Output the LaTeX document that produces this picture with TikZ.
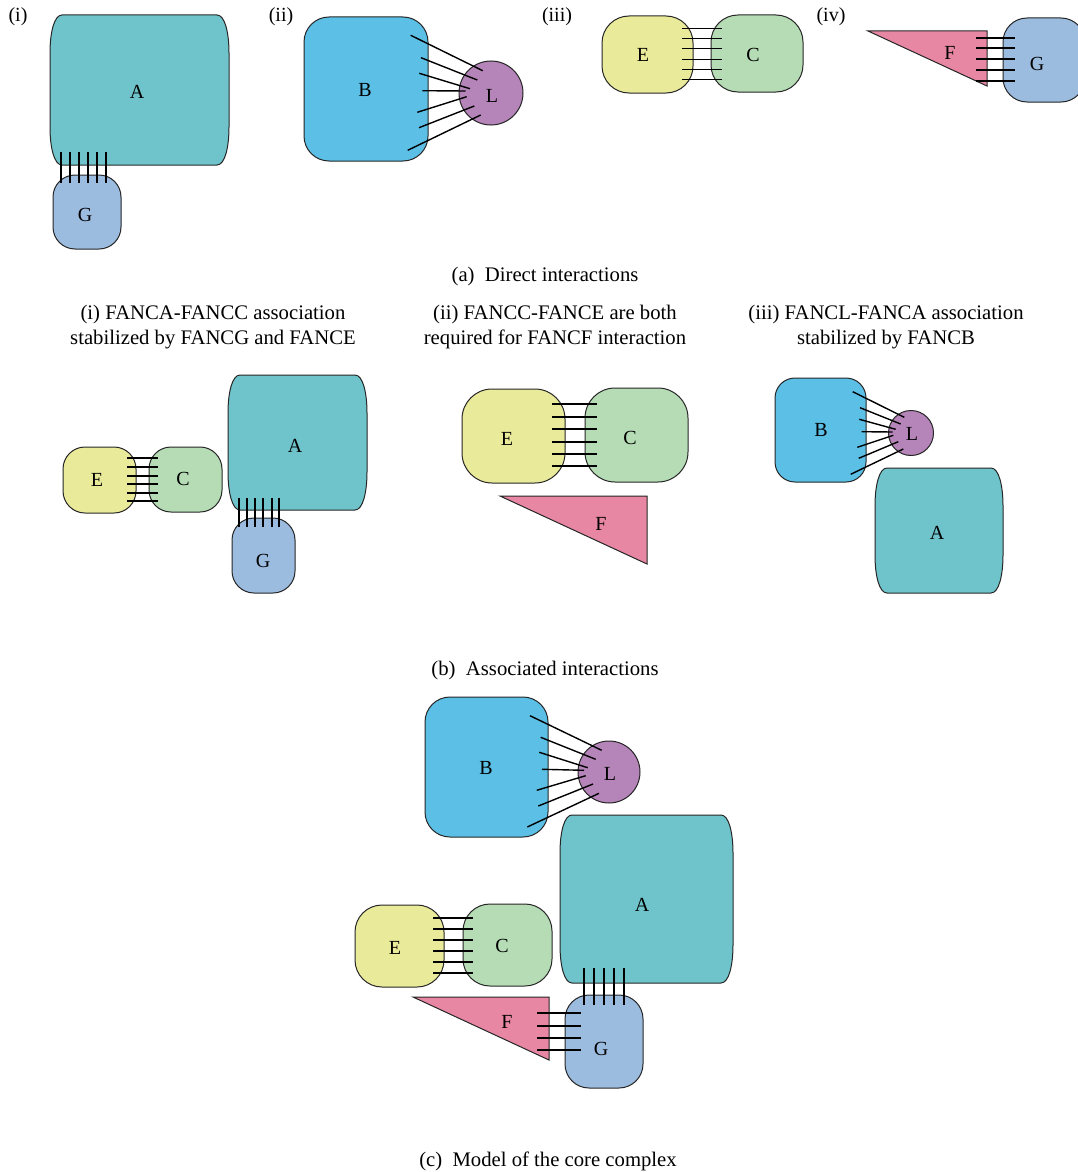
\documentclass[tikz,border=0pt]{standalone}
\usepackage{fontspec}
\setmainfont{Liberation Serif}
\definecolor{cA}{HTML}{6FC4CB}
\definecolor{cG}{HTML}{9BBBDF}
\definecolor{cB}{HTML}{5BBFE6}
\definecolor{cL}{HTML}{B584B9}
\definecolor{cE}{HTML}{EAEA9B}
\definecolor{cC}{HTML}{B6DCB5}
\definecolor{cF}{HTML}{E787A3}
\tikzset{
  outl/.style={draw=black!85, line width=1pt},
  bond/.style={draw=black, line width=1.4pt},
  lbl/.style={font=\fontsize{20}{25}\selectfont, inner sep=0pt},
  txt/.style={font=\fontsize{20.7}{25}\selectfont, align=center, inner sep=0pt},
}
\newcommand\barrelshape[5]{%
 \draw[outl,fill=#5] ({#1+12},#2) -- ({#3-12},#2)
   .. controls ({#3-4},#2) and (#3,{#2+18}) .. (#3,{#2+38})
   -- (#3,{#4-38})
   .. controls (#3,{#4-18}) and ({#3-4},#4) .. ({#3-12},#4)
   -- ({#1+12},#4)
   .. controls ({#1+4},#4) and (#1,{#4-18}) .. (#1,{#4-38})
   -- (#1,{#2+38})
   .. controls (#1,{#2+18}) and ({#1+4},#2) .. ({#1+12},#2) -- cycle;}
\newcommand\rbox[6]{% x1 y1 x2 y2 radius fill
 \draw[outl,fill=#6,rounded corners=#5pt] (#1,#2) rectangle (#3,#4);}
\begin{document}
\begin{tikzpicture}[x=1pt,y=-1pt]
\useasboundingbox (0,0) rectangle (1077,1172);
% ===== (a)(i)
\node[lbl] (ti) at (18,17) {(i)};
\barrelshape{50}{15}{229}{165}{cA}
\rbox{53}{175}{121}{249}{22}{cG}
\node[lbl] (ai) at (137,92) {A};
\node[lbl] (gi) at (85,215) {G};
\foreach \x in {61,70,79,88,97,106} \draw[bond] (\x,152) -- (\x,183);
% ===== (a)(ii)
\node[lbl] (tii) at (281,17) {(ii)};
\rbox{304}{17}{428}{161}{25}{cB}
\draw[outl,fill=cL] (491,93) circle (32);
\node[lbl] (bii) at (365,90) {B};
\node[lbl] (lii) at (492,96) {L};
\draw[bond] (410.7,35.3) -- (482.7,70.7);
\draw[bond] (421,57.7) -- (477.3,80);
\draw[bond] (419.3,73.3) -- (470,88.7);
\draw[bond] (422.3,90.7) -- (465.7,91);
\draw[bond] (417.3,112.3) -- (466.7,96.7);
\draw[bond] (419,127.7) -- (474.3,106);
\draw[bond] (407.7,150.3) -- (480.7,115);
% ===== (a)(iii)
\node[lbl] (tiii) at (557,17) {(iii)};
\rbox{602}{16}{693}{93}{27}{cE}
\rbox{711}{15}{803}{92}{27}{cC}
\node[lbl] (eiii) at (643,55) {E};
\node[lbl] (ciii) at (753,55) {C};
\foreach \y in {28.3,38.3,48.7,59.3,69.3,79.3} \draw[bond] (682,\y) -- (722,\y);
% ===== (a)(iv)
\node[lbl] (tiv) at (831,17) {(iv)};
\draw[outl,fill=cF] (868,31) -- (987,31) -- (987,86) -- cycle;
\rbox{1003}{18}{1085}{102}{24}{cG}
\node[lbl] (fiv) at (950,53) {F};
\node[lbl] (giv) at (1037,64) {G};
\foreach \y in {38,48,59,70,81} \draw[bond] (976,\y) -- (1015,\y);
% caption a
\node[txt] (capa) at (545,277) {(a)\enspace Direct interactions};
\node[txt] (t1) at (213,327) {(i) FANCA-FANCC association\\stabilized by FANCG and FANCE};
\node[txt] (t2) at (555,327) {(ii) FANCC-FANCE are both\\required for FANCF interaction};
\node[txt] (t3) at (886,327) {(iii) FANCL-FANCA association\\stabilized by FANCB};
% ===== (b)(i)
\rbox{63}{447}{136}{513}{22}{cE}
\rbox{149}{447}{222}{512}{22}{cC}
\barrelshape{228}{375}{367}{510}{cA}
\rbox{232}{518}{295}{593}{22}{cG}
\node[lbl] (eb1) at (97,480) {E};
\node[lbl] (cb1) at (183,479) {C};
\node[lbl] (ab1) at (295,446) {A};
\node[lbl] (gb1) at (263,561) {G};
\foreach \y in {458,467,476,484,493,501} \draw[bond] (127,\y) -- (158,\y);
\foreach \x in {239,247,255,263,272,279} \draw[bond] (\x,498) -- (\x,527);
% ===== (b)(ii)
\rbox{462}{389}{565}{483}{30}{cE}
\rbox{585}{388}{688}{482}{30}{cC}
\draw[outl,fill=cF] (500,496) -- (647,496) -- (647,564) -- cycle;
\node[lbl] (eb2) at (507,439) {E};
\node[lbl] (cb2) at (630,438) {C};
\node[lbl] (fb2) at (601,524) {F};
\foreach \y in {404,417,429,442,454,466} \draw[bond] (552,\y) -- (597,\y);
% ===== (b)(iii)
\rbox{775}{378}{866}{482}{20}{cB}
\draw[outl,fill=cL] (911,433) circle (22.5);
\barrelshape{875}{468}{1003}{593}{cA}
\node[lbl] (bb3) at (821,430) {B};
\node[lbl] (lb3) at (912,434) {L};
\node[lbl] (ab3) at (937,533) {A};
\draw[bond] (852.7,391.7) -- (904.3,417.3);
\draw[bond] (860,407.7) -- (900.7,424);
\draw[bond] (859.3,419.3) -- (895.7,429.3);
\draw[bond] (861.7,431.7) -- (892.7,432);
\draw[bond] (857.3,447.3) -- (893.3,435.3);
\draw[bond] (858.7,458.3) -- (898.3,441.7);
\draw[bond] (850.7,474.3) -- (903.3,449);
\node[txt] (capb) at (545,671) {(b)\enspace Associated interactions};
% ===== (c)
\rbox{425}{697}{548}{837}{25}{cB}
\draw[outl,fill=cL] (609,772) circle (31);
\node[lbl] (bc) at (486,768) {B};
\node[lbl] (lc) at (610,774) {L};
\draw[bond] (530,715.7) -- (601.7,750.3);
\draw[bond] (540.7,737.3) -- (595.7,759.3);
\draw[bond] (539.3,752.3) -- (587.7,767.7);
\draw[bond] (542,769.3) -- (584,770.3);
\draw[bond] (536.7,790.3) -- (585.7,775.7);
\draw[bond] (538.3,806) -- (593,784);
\draw[bond] (527.3,827) -- (599,793.3);
\barrelshape{560}{815}{733}{983}{cA}
\rbox{355}{905}{444}{987}{27}{cE}
\rbox{463}{904}{552}{986}{27}{cC}
\draw[outl,fill=cF] (413,997) -- (549,997) -- (549,1060) -- cycle;
\rbox{565}{995}{643}{1088}{24}{cG}
\node[lbl] (ac) at (642,905) {A};
\node[lbl] (ec) at (395,948) {E};
\node[lbl] (cc) at (502,946) {C};
\node[lbl] (fc) at (507,1022) {F};
\node[lbl] (gc) at (601,1049) {G};
\foreach \y in {918,929,940,951,962,973} \draw[bond] (433,\y) -- (473,\y);
\foreach \x in {584,594,604,614,624} \draw[bond] (\x,968) -- (\x,1005);
\foreach \y in {1013,1026,1038,1050} \draw[bond] (537,\y) -- (581,\y);
\node[txt] (capc) at (548,1161) {(c)\enspace Model of the core complex};
\end{tikzpicture}
\end{document}
